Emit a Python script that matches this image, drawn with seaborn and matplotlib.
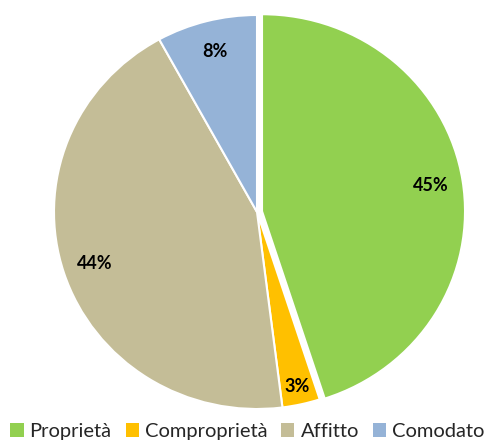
import numpy as np
import matplotlib
matplotlib.use("Agg")
import matplotlib.pyplot as plt
from matplotlib.patches import Patch
import seaborn as sns

categories = ["Proprietà", "Comproprietà", "Affitto", "Comodato"]
shares = [45, 3, 44, 8]
colors = ["#92D050", "#FFC000", "#C4BD97", "#95B3D7"]

sns.set_theme(style="white")
plt.rcParams["font.family"] = ["Lato", "DejaVu Sans"]
palette = sns.color_palette(colors)

fig = plt.figure(figsize=(4.9, 4.41), dpi=100)
ax = fig.add_axes([0, 0, 1, 1])

wedges, texts, autotexts = ax.pie(
    shares, colors=palette, startangle=90, counterclock=False,
    explode=[0.025, 0, 0, 0], autopct="%d%%", pctdistance=0.84,
    wedgeprops=dict(edgecolor="white", linewidth=1.5),
    textprops=dict(fontsize=13, fontweight="bold", color="black"))

# small slice label sits a bit further out
x, y = autotexts[1].get_position()
autotexts[1].set_position((x * 1.08, y * 1.08))

ax.set_aspect("auto")
ax.set_xlim(-257 / 203, (490 - 257) / 203)
ax.set_ylim(-229 / 197, (441 - 229) / 197)
ax.axis("off")

handles = [Patch(facecolor=c, edgecolor="none") for c in palette]
fig.legend(handles, categories, loc="upper center", bbox_to_anchor=(0.505, 1 - 413 / 441),
           ncol=4, frameon=False, fontsize=14.5, handlelength=0.65, handleheight=0.65,
           handletextpad=0.3, columnspacing=0.7, borderpad=0)

fig.savefig("out.png", dpi=100)
